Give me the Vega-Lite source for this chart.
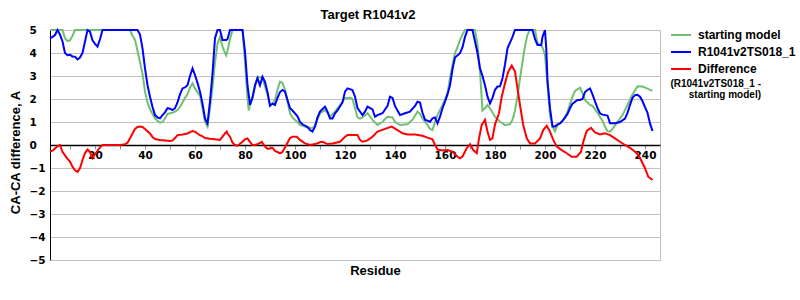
{
  "$schema": "https://vega.github.io/schema/vega-lite/v6.json",
  "width": 610,
  "height": 230,
  "autosize": {"type": "none"},
  "padding": {"left": 50, "top": 30, "right": 140, "bottom": 40},
  "background": "white",
  "title": {"text": "Target R1041v2", "font": "Liberation Sans", "fontSize": 13, "fontWeight": "bold", "color": "black", "anchor": "middle", "dx": 13, "offset": 2},
  "config": {"view": {"stroke": "#c0c0c0"}},
  "datasets": {
    "lines": [
      {"s":"starting model","r":2,"v":5},{"s":"starting model","r":7,"v":5},{"s":"starting model","r":8,"v":4.64},{"s":"starting model","r":9,"v":4.52},{"s":"starting model","r":10,"v":4.55},{"s":"starting model","r":11,"v":4.75},{"s":"starting model","r":12,"v":5},{"s":"starting model","r":34,"v":5},{"s":"starting model","r":35,"v":4.75},{"s":"starting model","r":36,"v":4.57},{"s":"starting model","r":37,"v":4.1},{"s":"starting model","r":38,"v":3.6},{"s":"starting model","r":39,"v":3.1},{"s":"starting model","r":40,"v":2.32},{"s":"starting model","r":41,"v":1.85},{"s":"starting model","r":42,"v":1.55},{"s":"starting model","r":43,"v":1.35},{"s":"starting model","r":44,"v":1.16},{"s":"starting model","r":45,"v":1.05},{"s":"starting model","r":46,"v":0.97},{"s":"starting model","r":47,"v":1.0},{"s":"starting model","r":48,"v":1.15},{"s":"starting model","r":49,"v":1.35},{"s":"starting model","r":50,"v":1.38},{"s":"starting model","r":51,"v":1.4},{"s":"starting model","r":52,"v":1.45},{"s":"starting model","r":53,"v":1.52},{"s":"starting model","r":54,"v":1.65},{"s":"starting model","r":55,"v":1.85},{"s":"starting model","r":56,"v":2.05},{"s":"starting model","r":57,"v":2.2},{"s":"starting model","r":58,"v":2.5},{"s":"starting model","r":59,"v":2.68},{"s":"starting model","r":60,"v":2.46},{"s":"starting model","r":61,"v":2.3},{"s":"starting model","r":62,"v":2.15},{"s":"starting model","r":63,"v":1.6},{"s":"starting model","r":64,"v":1.0},{"s":"starting model","r":65,"v":0.8},{"s":"starting model","r":66,"v":1.6},{"s":"starting model","r":67,"v":2.5},{"s":"starting model","r":68,"v":3.6},{"s":"starting model","r":69,"v":4.4},{"s":"starting model","r":70,"v":4.7},{"s":"starting model","r":71,"v":4.28},{"s":"starting model","r":72,"v":4.0},{"s":"starting model","r":72.5,"v":3.9},{"s":"starting model","r":73,"v":4.1},{"s":"starting model","r":74,"v":4.6},{"s":"starting model","r":75,"v":5},{"s":"starting model","r":79,"v":5},{"s":"starting model","r":80,"v":3.6},{"s":"starting model","r":81,"v":2.0},{"s":"starting model","r":81.5,"v":1.5},{"s":"starting model","r":82,"v":1.8},{"s":"starting model","r":83,"v":2.1},{"s":"starting model","r":84,"v":2.54},{"s":"starting model","r":85,"v":2.97},{"s":"starting model","r":86,"v":2.95},{"s":"starting model","r":87,"v":2.9},{"s":"starting model","r":88,"v":2.54},{"s":"starting model","r":89,"v":2.2},{"s":"starting model","r":90,"v":1.74},{"s":"starting model","r":91,"v":1.8},{"s":"starting model","r":92,"v":1.96},{"s":"starting model","r":93,"v":2.4},{"s":"starting model","r":94,"v":2.75},{"s":"starting model","r":95,"v":2.7},{"s":"starting model","r":96,"v":2.4},{"s":"starting model","r":97,"v":1.9},{"s":"starting model","r":98,"v":1.38},{"s":"starting model","r":99,"v":1.2},{"s":"starting model","r":100,"v":1.09},{"s":"starting model","r":101,"v":1.0},{"s":"starting model","r":102,"v":0.87},{"s":"starting model","r":104,"v":0.8},{"s":"starting model","r":106,"v":0.75},{"s":"starting model","r":107,"v":0.72},{"s":"starting model","r":108,"v":0.85},{"s":"starting model","r":109,"v":1.1},{"s":"starting model","r":110,"v":1.38},{"s":"starting model","r":112,"v":1.52},{"s":"starting model","r":113,"v":1.4},{"s":"starting model","r":114,"v":1.23},{"s":"starting model","r":115,"v":1.35},{"s":"starting model","r":116,"v":1.45},{"s":"starting model","r":118,"v":1.74},{"s":"starting model","r":120,"v":2.03},{"s":"starting model","r":122,"v":2.05},{"s":"starting model","r":123,"v":2.0},{"s":"starting model","r":124,"v":1.6},{"s":"starting model","r":125,"v":1.2},{"s":"starting model","r":126,"v":1.15},{"s":"starting model","r":127,"v":1.2},{"s":"starting model","r":129,"v":1.38},{"s":"starting model","r":131,"v":1.09},{"s":"starting model","r":133,"v":0.87},{"s":"starting model","r":135,"v":1.01},{"s":"starting model","r":137,"v":1.23},{"s":"starting model","r":139,"v":1.2},{"s":"starting model","r":140,"v":1.01},{"s":"starting model","r":142,"v":0.87},{"s":"starting model","r":145,"v":0.9},{"s":"starting model","r":147,"v":1.1},{"s":"starting model","r":149,"v":1.45},{"s":"starting model","r":150,"v":1.35},{"s":"starting model","r":151,"v":1.15},{"s":"starting model","r":153,"v":0.87},{"s":"starting model","r":154,"v":0.7},{"s":"starting model","r":155,"v":0.65},{"s":"starting model","r":156,"v":1.01},{"s":"starting model","r":157,"v":1.3},{"s":"starting model","r":159,"v":1.74},{"s":"starting model","r":161,"v":2.25},{"s":"starting model","r":162,"v":2.9},{"s":"starting model","r":163,"v":3.5},{"s":"starting model","r":164,"v":4.0},{"s":"starting model","r":165,"v":4.25},{"s":"starting model","r":166,"v":4.57},{"s":"starting model","r":167,"v":4.8},{"s":"starting model","r":168,"v":5},{"s":"starting model","r":172,"v":5},{"s":"starting model","r":173,"v":4.35},{"s":"starting model","r":174,"v":3.2},{"s":"starting model","r":175,"v":1.5},{"s":"starting model","r":176,"v":1.6},{"s":"starting model","r":177,"v":1.74},{"s":"starting model","r":178,"v":1.6},{"s":"starting model","r":180,"v":1.23},{"s":"starting model","r":182,"v":1.01},{"s":"starting model","r":184,"v":0.87},{"s":"starting model","r":186,"v":0.9},{"s":"starting model","r":187,"v":1.1},{"s":"starting model","r":188,"v":1.5},{"s":"starting model","r":189,"v":2.1},{"s":"starting model","r":190,"v":2.9},{"s":"starting model","r":191,"v":3.6},{"s":"starting model","r":192,"v":4.3},{"s":"starting model","r":193,"v":4.8},{"s":"starting model","r":194,"v":5},{"s":"starting model","r":196,"v":5},{"s":"starting model","r":197,"v":4.45},{"s":"starting model","r":199,"v":4.25},{"s":"starting model","r":200,"v":3.91},{"s":"starting model","r":201,"v":2.6},{"s":"starting model","r":202,"v":1.3},{"s":"starting model","r":203,"v":0.8},{"s":"starting model","r":204,"v":0.6},{"s":"starting model","r":205,"v":0.85},{"s":"starting model","r":207,"v":1.05},{"s":"starting model","r":208,"v":1.16},{"s":"starting model","r":209,"v":1.45},{"s":"starting model","r":211,"v":2.1},{"s":"starting model","r":212,"v":2.35},{"s":"starting model","r":214,"v":2.49},{"s":"starting model","r":215,"v":2.25},{"s":"starting model","r":216,"v":1.96},{"s":"starting model","r":218,"v":1.74},{"s":"starting model","r":219,"v":1.7},{"s":"starting model","r":221,"v":1.4},{"s":"starting model","r":223,"v":1.05},{"s":"starting model","r":224,"v":0.8},{"s":"starting model","r":225,"v":0.6},{"s":"starting model","r":226,"v":0.58},{"s":"starting model","r":227,"v":0.7},{"s":"starting model","r":229,"v":1.0},{"s":"starting model","r":231,"v":1.3},{"s":"starting model","r":233,"v":1.74},{"s":"starting model","r":235,"v":2.2},{"s":"starting model","r":237,"v":2.55},{"s":"starting model","r":239,"v":2.54},{"s":"starting model","r":241,"v":2.45},{"s":"starting model","r":242,"v":2.4},{"s":"starting model","r":243,"v":2.35},

      {"s":"R1041v2TS018_1","r":2,"v":4.64},{"s":"R1041v2TS018_1","r":3,"v":4.7},{"s":"R1041v2TS018_1","r":4,"v":4.78},{"s":"R1041v2TS018_1","r":5,"v":5},{"s":"R1041v2TS018_1","r":6,"v":4.8},{"s":"R1041v2TS018_1","r":7,"v":4.5},{"s":"R1041v2TS018_1","r":8,"v":4.0},{"s":"R1041v2TS018_1","r":9,"v":3.9},{"s":"R1041v2TS018_1","r":10,"v":3.92},{"s":"R1041v2TS018_1","r":11,"v":3.85},{"s":"R1041v2TS018_1","r":12,"v":3.84},{"s":"R1041v2TS018_1","r":13,"v":3.72},{"s":"R1041v2TS018_1","r":14,"v":3.8},{"s":"R1041v2TS018_1","r":15,"v":4.0},{"s":"R1041v2TS018_1","r":16,"v":4.5},{"s":"R1041v2TS018_1","r":17,"v":5},{"s":"R1041v2TS018_1","r":18,"v":4.93},{"s":"R1041v2TS018_1","r":19,"v":4.55},{"s":"R1041v2TS018_1","r":20,"v":4.4},{"s":"R1041v2TS018_1","r":21,"v":4.28},{"s":"R1041v2TS018_1","r":22,"v":4.6},{"s":"R1041v2TS018_1","r":23,"v":5},{"s":"R1041v2TS018_1","r":37,"v":5},{"s":"R1041v2TS018_1","r":38,"v":4.8},{"s":"R1041v2TS018_1","r":39,"v":4.2},{"s":"R1041v2TS018_1","r":40,"v":3.33},{"s":"R1041v2TS018_1","r":41,"v":2.6},{"s":"R1041v2TS018_1","r":42,"v":2.1},{"s":"R1041v2TS018_1","r":43,"v":1.65},{"s":"R1041v2TS018_1","r":44,"v":1.3},{"s":"R1041v2TS018_1","r":45,"v":1.2},{"s":"R1041v2TS018_1","r":46,"v":1.16},{"s":"R1041v2TS018_1","r":47,"v":1.3},{"s":"R1041v2TS018_1","r":48,"v":1.42},{"s":"R1041v2TS018_1","r":49,"v":1.6},{"s":"R1041v2TS018_1","r":50,"v":1.58},{"s":"R1041v2TS018_1","r":51,"v":1.52},{"s":"R1041v2TS018_1","r":52,"v":1.6},{"s":"R1041v2TS018_1","r":53,"v":1.85},{"s":"R1041v2TS018_1","r":54,"v":2.2},{"s":"R1041v2TS018_1","r":55,"v":2.46},{"s":"R1041v2TS018_1","r":56,"v":2.5},{"s":"R1041v2TS018_1","r":57,"v":2.6},{"s":"R1041v2TS018_1","r":58,"v":3.0},{"s":"R1041v2TS018_1","r":59,"v":3.33},{"s":"R1041v2TS018_1","r":60,"v":3.04},{"s":"R1041v2TS018_1","r":61,"v":2.7},{"s":"R1041v2TS018_1","r":62,"v":2.32},{"s":"R1041v2TS018_1","r":63,"v":1.8},{"s":"R1041v2TS018_1","r":64,"v":1.16},{"s":"R1041v2TS018_1","r":65,"v":0.94},{"s":"R1041v2TS018_1","r":66,"v":1.9},{"s":"R1041v2TS018_1","r":67,"v":3.1},{"s":"R1041v2TS018_1","r":68,"v":4.64},{"s":"R1041v2TS018_1","r":69,"v":5},{"s":"R1041v2TS018_1","r":70,"v":5},{"s":"R1041v2TS018_1","r":71,"v":4.57},{"s":"R1041v2TS018_1","r":72.5,"v":4.57},{"s":"R1041v2TS018_1","r":73,"v":4.6},{"s":"R1041v2TS018_1","r":74,"v":5},{"s":"R1041v2TS018_1","r":79,"v":5},{"s":"R1041v2TS018_1","r":80,"v":4.06},{"s":"R1041v2TS018_1","r":81,"v":2.6},{"s":"R1041v2TS018_1","r":82,"v":1.74},{"s":"R1041v2TS018_1","r":83,"v":2.05},{"s":"R1041v2TS018_1","r":84,"v":2.6},{"s":"R1041v2TS018_1","r":85,"v":2.9},{"s":"R1041v2TS018_1","r":86,"v":2.6},{"s":"R1041v2TS018_1","r":87,"v":2.97},{"s":"R1041v2TS018_1","r":88,"v":2.75},{"s":"R1041v2TS018_1","r":89,"v":2.3},{"s":"R1041v2TS018_1","r":90,"v":1.7},{"s":"R1041v2TS018_1","r":91,"v":1.8},{"s":"R1041v2TS018_1","r":92,"v":1.74},{"s":"R1041v2TS018_1","r":93,"v":2.05},{"s":"R1041v2TS018_1","r":94,"v":2.3},{"s":"R1041v2TS018_1","r":95,"v":2.39},{"s":"R1041v2TS018_1","r":96,"v":2.32},{"s":"R1041v2TS018_1","r":97,"v":1.96},{"s":"R1041v2TS018_1","r":98,"v":1.6},{"s":"R1041v2TS018_1","r":99,"v":1.5},{"s":"R1041v2TS018_1","r":101,"v":1.25},{"s":"R1041v2TS018_1","r":102,"v":1.0},{"s":"R1041v2TS018_1","r":103,"v":0.9},{"s":"R1041v2TS018_1","r":105,"v":0.78},{"s":"R1041v2TS018_1","r":106,"v":0.65},{"s":"R1041v2TS018_1","r":107,"v":0.58},{"s":"R1041v2TS018_1","r":108,"v":0.8},{"s":"R1041v2TS018_1","r":109,"v":1.2},{"s":"R1041v2TS018_1","r":110,"v":1.45},{"s":"R1041v2TS018_1","r":112,"v":1.67},{"s":"R1041v2TS018_1","r":113,"v":1.45},{"s":"R1041v2TS018_1","r":114,"v":1.15},{"s":"R1041v2TS018_1","r":115,"v":1.15},{"s":"R1041v2TS018_1","r":116,"v":1.38},{"s":"R1041v2TS018_1","r":117,"v":1.5},{"s":"R1041v2TS018_1","r":119,"v":1.85},{"s":"R1041v2TS018_1","r":120,"v":2.32},{"s":"R1041v2TS018_1","r":121,"v":2.46},{"s":"R1041v2TS018_1","r":123,"v":2.39},{"s":"R1041v2TS018_1","r":124,"v":2.1},{"s":"R1041v2TS018_1","r":125,"v":1.6},{"s":"R1041v2TS018_1","r":127,"v":1.3},{"s":"R1041v2TS018_1","r":128,"v":1.45},{"s":"R1041v2TS018_1","r":129,"v":1.67},{"s":"R1041v2TS018_1","r":131,"v":1.55},{"s":"R1041v2TS018_1","r":132,"v":1.23},{"s":"R1041v2TS018_1","r":133,"v":1.3},{"s":"R1041v2TS018_1","r":135,"v":1.38},{"s":"R1041v2TS018_1","r":137,"v":1.7},{"s":"R1041v2TS018_1","r":138,"v":2.1},{"s":"R1041v2TS018_1","r":139,"v":2.05},{"s":"R1041v2TS018_1","r":140,"v":1.7},{"s":"R1041v2TS018_1","r":141,"v":1.5},{"s":"R1041v2TS018_1","r":142,"v":1.3},{"s":"R1041v2TS018_1","r":144,"v":1.38},{"s":"R1041v2TS018_1","r":146,"v":1.45},{"s":"R1041v2TS018_1","r":148,"v":1.7},{"s":"R1041v2TS018_1","r":149,"v":1.88},{"s":"R1041v2TS018_1","r":150,"v":1.85},{"s":"R1041v2TS018_1","r":151,"v":1.4},{"s":"R1041v2TS018_1","r":152,"v":1.1},{"s":"R1041v2TS018_1","r":154,"v":1.01},{"s":"R1041v2TS018_1","r":155,"v":1.16},{"s":"R1041v2TS018_1","r":156,"v":1.2},{"s":"R1041v2TS018_1","r":157,"v":0.94},{"s":"R1041v2TS018_1","r":158,"v":1.23},{"s":"R1041v2TS018_1","r":159,"v":1.6},{"s":"R1041v2TS018_1","r":160,"v":1.88},{"s":"R1041v2TS018_1","r":161,"v":2.2},{"s":"R1041v2TS018_1","r":162,"v":2.6},{"s":"R1041v2TS018_1","r":163,"v":3.3},{"s":"R1041v2TS018_1","r":164,"v":3.8},{"s":"R1041v2TS018_1","r":166,"v":3.99},{"s":"R1041v2TS018_1","r":167,"v":4.25},{"s":"R1041v2TS018_1","r":168,"v":4.7},{"s":"R1041v2TS018_1","r":169,"v":5},{"s":"R1041v2TS018_1","r":171,"v":5},{"s":"R1041v2TS018_1","r":172,"v":4.5},{"s":"R1041v2TS018_1","r":173,"v":4.0},{"s":"R1041v2TS018_1","r":174,"v":3.33},{"s":"R1041v2TS018_1","r":175,"v":3.0},{"s":"R1041v2TS018_1","r":176,"v":2.6},{"s":"R1041v2TS018_1","r":177,"v":2.1},{"s":"R1041v2TS018_1","r":178,"v":1.81},{"s":"R1041v2TS018_1","r":179,"v":2.05},{"s":"R1041v2TS018_1","r":180,"v":2.4},{"s":"R1041v2TS018_1","r":181,"v":2.54},{"s":"R1041v2TS018_1","r":182,"v":2.55},{"s":"R1041v2TS018_1","r":183,"v":2.9},{"s":"R1041v2TS018_1","r":184,"v":3.5},{"s":"R1041v2TS018_1","r":185,"v":4.2},{"s":"R1041v2TS018_1","r":186,"v":4.45},{"s":"R1041v2TS018_1","r":187,"v":4.7},{"s":"R1041v2TS018_1","r":188,"v":5},{"s":"R1041v2TS018_1","r":195,"v":5},{"s":"R1041v2TS018_1","r":196,"v":4.6},{"s":"R1041v2TS018_1","r":197,"v":4.35},{"s":"R1041v2TS018_1","r":198.5,"v":4.35},{"s":"R1041v2TS018_1","r":199,"v":4.7},{"s":"R1041v2TS018_1","r":200,"v":5},{"s":"R1041v2TS018_1","r":200.5,"v":4.2},{"s":"R1041v2TS018_1","r":201,"v":2.8},{"s":"R1041v2TS018_1","r":202,"v":1.6},{"s":"R1041v2TS018_1","r":203,"v":0.8},{"s":"R1041v2TS018_1","r":204,"v":0.8},{"s":"R1041v2TS018_1","r":205,"v":0.9},{"s":"R1041v2TS018_1","r":206,"v":0.94},{"s":"R1041v2TS018_1","r":207,"v":1.05},{"s":"R1041v2TS018_1","r":209,"v":1.35},{"s":"R1041v2TS018_1","r":210,"v":1.6},{"s":"R1041v2TS018_1","r":211,"v":1.8},{"s":"R1041v2TS018_1","r":213,"v":1.96},{"s":"R1041v2TS018_1","r":214,"v":1.96},{"s":"R1041v2TS018_1","r":215,"v":2.0},{"s":"R1041v2TS018_1","r":216,"v":2.3},{"s":"R1041v2TS018_1","r":217,"v":2.39},{"s":"R1041v2TS018_1","r":218,"v":2.46},{"s":"R1041v2TS018_1","r":219,"v":2.2},{"s":"R1041v2TS018_1","r":220,"v":1.9},{"s":"R1041v2TS018_1","r":221,"v":1.6},{"s":"R1041v2TS018_1","r":222,"v":1.38},{"s":"R1041v2TS018_1","r":223,"v":1.32},{"s":"R1041v2TS018_1","r":225,"v":1.28},{"s":"R1041v2TS018_1","r":226,"v":0.95},{"s":"R1041v2TS018_1","r":228,"v":0.95},{"s":"R1041v2TS018_1","r":230,"v":1.0},{"s":"R1041v2TS018_1","r":232,"v":1.15},{"s":"R1041v2TS018_1","r":233,"v":1.4},{"s":"R1041v2TS018_1","r":234,"v":1.74},{"s":"R1041v2TS018_1","r":235,"v":2.05},{"s":"R1041v2TS018_1","r":236,"v":2.17},{"s":"R1041v2TS018_1","r":237,"v":2.18},{"s":"R1041v2TS018_1","r":238,"v":2.1},{"s":"R1041v2TS018_1","r":239,"v":1.9},{"s":"R1041v2TS018_1","r":240,"v":1.65},{"s":"R1041v2TS018_1","r":241,"v":1.4},{"s":"R1041v2TS018_1","r":242,"v":0.94},{"s":"R1041v2TS018_1","r":243,"v":0.61},

      {"s":"Difference","r":2,"v":-0.29},{"s":"Difference","r":3,"v":-0.25},{"s":"Difference","r":4,"v":-0.15},{"s":"Difference","r":5,"v":-0.05},{"s":"Difference","r":6,"v":0},{"s":"Difference","r":7,"v":-0.3},{"s":"Difference","r":8,"v":-0.45},{"s":"Difference","r":9,"v":-0.6},{"s":"Difference","r":10,"v":-0.72},{"s":"Difference","r":11,"v":-0.95},{"s":"Difference","r":12,"v":-1.1},{"s":"Difference","r":13,"v":-1.17},{"s":"Difference","r":14,"v":-1.01},{"s":"Difference","r":15,"v":-0.65},{"s":"Difference","r":16,"v":-0.35},{"s":"Difference","r":17,"v":-0.2},{"s":"Difference","r":18,"v":-0.3},{"s":"Difference","r":19,"v":-0.58},{"s":"Difference","r":20,"v":-0.4},{"s":"Difference","r":21,"v":-0.25},{"s":"Difference","r":22,"v":-0.1},{"s":"Difference","r":23,"v":0},{"s":"Difference","r":30,"v":0},{"s":"Difference","r":32,"v":0.03},{"s":"Difference","r":33,"v":0.1},{"s":"Difference","r":34,"v":0.29},{"s":"Difference","r":35,"v":0.5},{"s":"Difference","r":36,"v":0.7},{"s":"Difference","r":37,"v":0.78},{"s":"Difference","r":38,"v":0.8},{"s":"Difference","r":39,"v":0.78},{"s":"Difference","r":40,"v":0.7},{"s":"Difference","r":41,"v":0.6},{"s":"Difference","r":42,"v":0.5},{"s":"Difference","r":43,"v":0.35},{"s":"Difference","r":44,"v":0.26},{"s":"Difference","r":46,"v":0.22},{"s":"Difference","r":48,"v":0.2},{"s":"Difference","r":50,"v":0.17},{"s":"Difference","r":51,"v":0.2},{"s":"Difference","r":52,"v":0.3},{"s":"Difference","r":53,"v":0.43},{"s":"Difference","r":55,"v":0.46},{"s":"Difference","r":57,"v":0.5},{"s":"Difference","r":59,"v":0.61},{"s":"Difference","r":60,"v":0.58},{"s":"Difference","r":61,"v":0.5},{"s":"Difference","r":62,"v":0.43},{"s":"Difference","r":63,"v":0.38},{"s":"Difference","r":64,"v":0.3},{"s":"Difference","r":66,"v":0.27},{"s":"Difference","r":68,"v":0.25},{"s":"Difference","r":70,"v":0.22},{"s":"Difference","r":71,"v":0.36},{"s":"Difference","r":72,"v":0.5},{"s":"Difference","r":72.7,"v":0.58},{"s":"Difference","r":73,"v":0.5},{"s":"Difference","r":74,"v":0.36},{"s":"Difference","r":75,"v":0.1},{"s":"Difference","r":76,"v":0.0},{"s":"Difference","r":77,"v":-0.03},{"s":"Difference","r":79,"v":0.14},{"s":"Difference","r":80,"v":0.25},{"s":"Difference","r":81,"v":0.29},{"s":"Difference","r":82,"v":0.14},{"s":"Difference","r":83,"v":0.0},{"s":"Difference","r":84,"v":0.0},{"s":"Difference","r":85,"v":0.03},{"s":"Difference","r":86.7,"v":0.14},{"s":"Difference","r":88,"v":-0.07},{"s":"Difference","r":89,"v":-0.17},{"s":"Difference","r":91,"v":-0.12},{"s":"Difference","r":92,"v":-0.26},{"s":"Difference","r":94,"v":-0.36},{"s":"Difference","r":95,"v":-0.3},{"s":"Difference","r":96,"v":-0.1},{"s":"Difference","r":97,"v":0.1},{"s":"Difference","r":98,"v":0.3},{"s":"Difference","r":99,"v":0.36},{"s":"Difference","r":100.7,"v":0.36},{"s":"Difference","r":102,"v":0.22},{"s":"Difference","r":104,"v":0.07},{"s":"Difference","r":106,"v":0},{"s":"Difference","r":108,"v":0.04},{"s":"Difference","r":110,"v":0.12},{"s":"Difference","r":111,"v":0.14},{"s":"Difference","r":113,"v":0.04},{"s":"Difference","r":115,"v":0.07},{"s":"Difference","r":118,"v":0.14},{"s":"Difference","r":120,"v":0.36},{"s":"Difference","r":121,"v":0.43},{"s":"Difference","r":125,"v":0.43},{"s":"Difference","r":126,"v":0.22},{"s":"Difference","r":127,"v":0.14},{"s":"Difference","r":129,"v":0.2},{"s":"Difference","r":131,"v":0.36},{"s":"Difference","r":133,"v":0.58},{"s":"Difference","r":136,"v":0.7},{"s":"Difference","r":138.7,"v":0.8},{"s":"Difference","r":141,"v":0.65},{"s":"Difference","r":143,"v":0.51},{"s":"Difference","r":145,"v":0.46},{"s":"Difference","r":148,"v":0.46},{"s":"Difference","r":151,"v":0.4},{"s":"Difference","r":153,"v":0.32},{"s":"Difference","r":155,"v":0.25},{"s":"Difference","r":156,"v":0},{"s":"Difference","r":157,"v":-0.2},{"s":"Difference","r":159,"v":-0.24},{"s":"Difference","r":161,"v":-0.22},{"s":"Difference","r":163,"v":-0.29},{"s":"Difference","r":165,"v":-0.51},{"s":"Difference","r":166,"v":-0.58},{"s":"Difference","r":167,"v":-0.5},{"s":"Difference","r":168.7,"v":-0.14},{"s":"Difference","r":170,"v":0.03},{"s":"Difference","r":171.3,"v":-0.22},{"s":"Difference","r":172.7,"v":-0.36},{"s":"Difference","r":173.6,"v":0.29},{"s":"Difference","r":174.7,"v":0.87},{"s":"Difference","r":176,"v":1.09},{"s":"Difference","r":177,"v":0.58},{"s":"Difference","r":178,"v":0.22},{"s":"Difference","r":179,"v":0.3},{"s":"Difference","r":180,"v":0.9},{"s":"Difference","r":181.6,"v":1.38},{"s":"Difference","r":182.7,"v":2.1},{"s":"Difference","r":184,"v":2.68},{"s":"Difference","r":185.3,"v":3.19},{"s":"Difference","r":186.7,"v":3.45},{"s":"Difference","r":188,"v":3.19},{"s":"Difference","r":189,"v":2.46},{"s":"Difference","r":190,"v":1.74},{"s":"Difference","r":191.3,"v":0.87},{"s":"Difference","r":192.7,"v":0.29},{"s":"Difference","r":194,"v":0.07},{"s":"Difference","r":196,"v":0.07},{"s":"Difference","r":198,"v":0.29},{"s":"Difference","r":199.3,"v":0.65},{"s":"Difference","r":200.7,"v":0.84},{"s":"Difference","r":202,"v":0.58},{"s":"Difference","r":203.3,"v":0.22},{"s":"Difference","r":204.7,"v":-0.07},{"s":"Difference","r":206.7,"v":-0.22},{"s":"Difference","r":208.7,"v":-0.36},{"s":"Difference","r":210.7,"v":-0.51},{"s":"Difference","r":212.7,"v":-0.51},{"s":"Difference","r":214.4,"v":-0.29},{"s":"Difference","r":215.3,"v":0.14},{"s":"Difference","r":216.7,"v":0.61},{"s":"Difference","r":218.4,"v":0.75},{"s":"Difference","r":220,"v":0.55},{"s":"Difference","r":222,"v":0.46},{"s":"Difference","r":224,"v":0.51},{"s":"Difference","r":226,"v":0.43},{"s":"Difference","r":228,"v":0.29},{"s":"Difference","r":230,"v":0.14},{"s":"Difference","r":232,"v":0},{"s":"Difference","r":234,"v":-0.12},{"s":"Difference","r":236,"v":-0.29},{"s":"Difference","r":237.3,"v":-0.43},{"s":"Difference","r":238.7,"v":-0.72},{"s":"Difference","r":240,"v":-1.01},{"s":"Difference","r":241.3,"v":-1.38},{"s":"Difference","r":243,"v":-1.52}
    ]
  },
  "encoding": {
    "x": {"field": "r", "type": "quantitative",
      "scale": {"domain": [2, 246], "nice": false, "zero": false},
      "axis": {"title": "Residue", "values": [10,20,30,40,50,60,70,80,90,100,110,120,130,140,150,160,170,180,190,200,210,220,230,240],
        "labelExpr": "datum.value % 20 == 0 ? datum.label : ''", "offset": -115, "grid": false,
        "ticks": true, "tickSize": 4, "tickColor": "#909090", "domainColor": "black", "domainWidth": 1.5,
        "labelFont": "DejaVu Sans", "labelFontSize": 10.5, "labelFontWeight": "bold", "labelColor": "black", "labelPadding": 1,
        "titleFont": "Liberation Sans", "titleFontSize": 13, "titleFontWeight": "bold", "titleColor": "black",
        "titleX": 325, "titleY": 119}},
    "y": {"field": "v", "type": "quantitative",
      "scale": {"domain": [-5, 5], "nice": false},
      "axis": {"title": "CA-CA difference, A", "values": [-5,-4,-3,-2,-1,0,1,2,3,4,5], "grid": true, "gridColor": "#c0c0c0",
        "ticks": false, "domainColor": "black", "labelAlign": "left", "labelPadding": 21,
        "labelFont": "DejaVu Sans", "labelFontSize": 10.5, "labelFontWeight": "bold", "labelColor": "black",
        "titleFont": "Liberation Sans", "titleFontSize": 13, "titleFontWeight": "bold", "titleColor": "black",
        "titleX": -28, "titleY": 122}}
  },
  "layer": [
    {"data": {"name": "lines"},
     "mark": {"type": "line", "strokeWidth": 2},
     "encoding": {
       "color": {"field": "s", "type": "nominal",
         "scale": {"domain": ["starting model", "R1041v2TS018_1", "Difference"], "range": ["#70c070", "#0000ff", "#ff0000"]},
         "legend": {"title": null, "orient": "none", "legendX": 620, "legendY": -6, "padding": 0,
           "symbolType": "stroke", "symbolSize": 400, "symbolStrokeWidth": 2, "rowPadding": 0, "labelOffset": 6,
           "labelFont": "Liberation Sans", "labelFontSize": 12, "labelFontWeight": "bold", "labelColor": "black"}}}},
    {"data": {"values": [{"note": "n", "r": 100, "v": 0}]},
     "mark": {"type": "point", "opacity": 0},
     "encoding": {
       "shape": {"field": "note", "type": "nominal",
         "legend": {"title": ["(R1041v2TS018_1 -", "starting model)"], "orient": "none", "legendX": 620, "legendY": 49, "padding": 0,
           "titleFont": "Liberation Sans", "titleFontSize": 10, "titleFontWeight": "bold", "titleColor": "black",
           "titleAlign": "right", "titleAnchor": "end", "titleLineHeight": 11, "titlePadding": 0,
           "labelExpr": "''", "symbolOpacity": 0, "symbolStrokeWidth": 0}}}}
  ]
}
